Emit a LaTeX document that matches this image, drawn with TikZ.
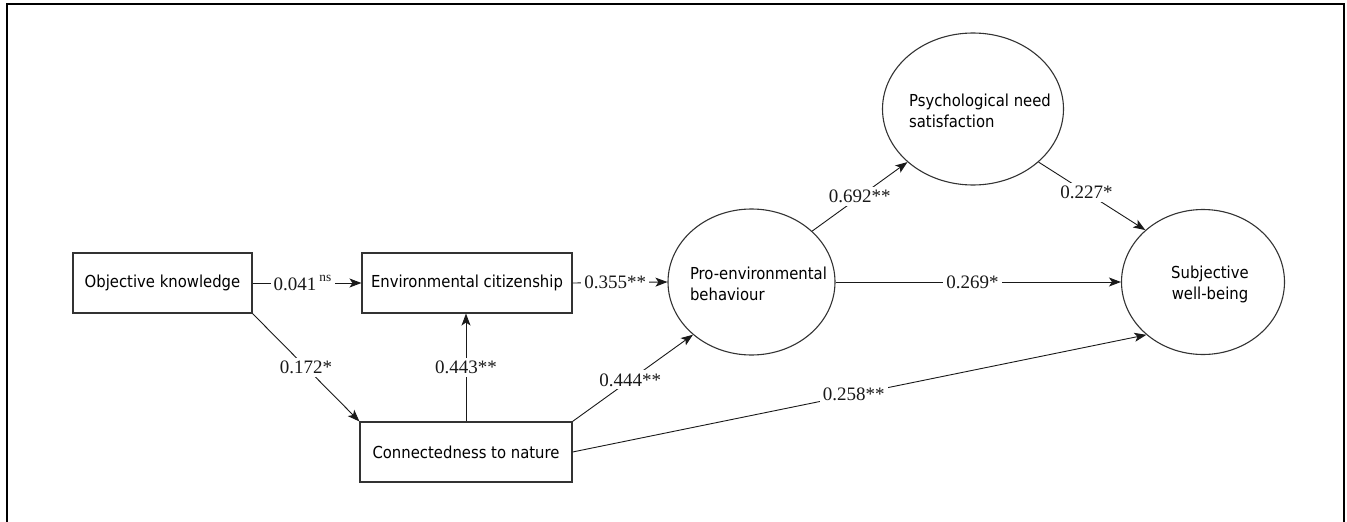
\documentclass[tikz,border=0pt]{standalone}
\usepackage{fontspec}
\setmainfont{Liberation Serif}
\newfontfamily\varfont{DejaVu Sans Condensed}
\usepackage{tikz}
\usetikzlibrary{shapes,arrows.meta,positioning}
\tikzstyle{observed} = [draw=black!80, line width=1.1pt, fill=white, minimum height=60pt, inner sep=0pt, font=\varfont\fontsize{16.5}{21}\selectfont]
\tikzstyle{latent} = [draw=black!80, line width=1.1pt, fill=white, ellipse, inner sep=0pt]
\tikzstyle{lattext} = [inner sep=0pt, xshift=7pt, yshift=-2pt, font=\varfont\fontsize{16.5}{21}\selectfont]
\tikzstyle{arrow} = [draw, line width=0.9pt, color=black!90, -{Stealth[length=12pt,width=9pt,inset=3pt]}]
\tikzstyle{coef} = [fill=white, inner sep=3pt, text=black!90, font=\fontsize{19}{22}\selectfont]
\tikzstyle{frame} = [draw, line width=2.7pt]
\newcommand{\observed}[3]{node (o#1) [observed, #2] {#3}}
\newcommand{\latent}[4]{node (l#1) [latent, #2, label={[lattext, #3]center:#4}] {}}

\begin{document}
\begin{tikzpicture}[x=1pt,y=-1pt]
\useasboundingbox (0,0) rectangle (1347,522);
\path [frame] (7,522) -- (7,4) -- (1344,4) -- (1344,522);

\path (162.5,283) \observed{1}{minimum width=179pt}{Objective knowledge};
\path (o1)+(304.5,0) \observed{2}{minimum width=210pt}{Environmental citizenship};
\path (o1)+(303.5,169) \observed{3}{minimum width=212pt}{Connectedness to nature};

\path (o2)+(284.5,-1) \latent{1}{minimum width=167pt, minimum height=146pt}{align=left}{Pro-environmental\\behaviour};
\path (l1)+(221.5,-173) \latent{2}{minimum width=181pt, minimum height=152pt}{align=left}{Psychological need\\satisfaction};
\path (l1)+(451.5,0) \latent{3}{minimum width=163pt, minimum height=145pt}{align=center}{Subjective\\well-being};

\path [arrow] (o1.east) -- (o2.west) node[coef, pos=.46] {0.041\,\raisebox{2pt}{\textsuperscript{ns}}};
\path [arrow] (o2.east) -- (l1.west) node[coef, pos=.45] {0.355**};
\path [arrow] (o1.south east) -- (o3.north west) node[coef, pos=.5] {0.172*};
\path [arrow] (o3.north) -- (o3.north |- o2.south) node[coef, pos=.5] {0.443**};
\path [arrow] (o3.north east) -- (l1.222) node[coef, pos=.48] {0.444**};
\path [arrow] (l1.40) -- (l2.219) node[coef, pos=.5] {0.692**};
\path [arrow] (l2.321) -- (l3.138) node[coef, pos=.45] {0.227*};
\path [arrow] (l1.east) -- (l3.west) node[coef, pos=.48] {0.269*};
\path [arrow] (o3.east) -- (l3.223) node[coef, pos=.49] {0.258**};
\end{tikzpicture}
\end{document}
